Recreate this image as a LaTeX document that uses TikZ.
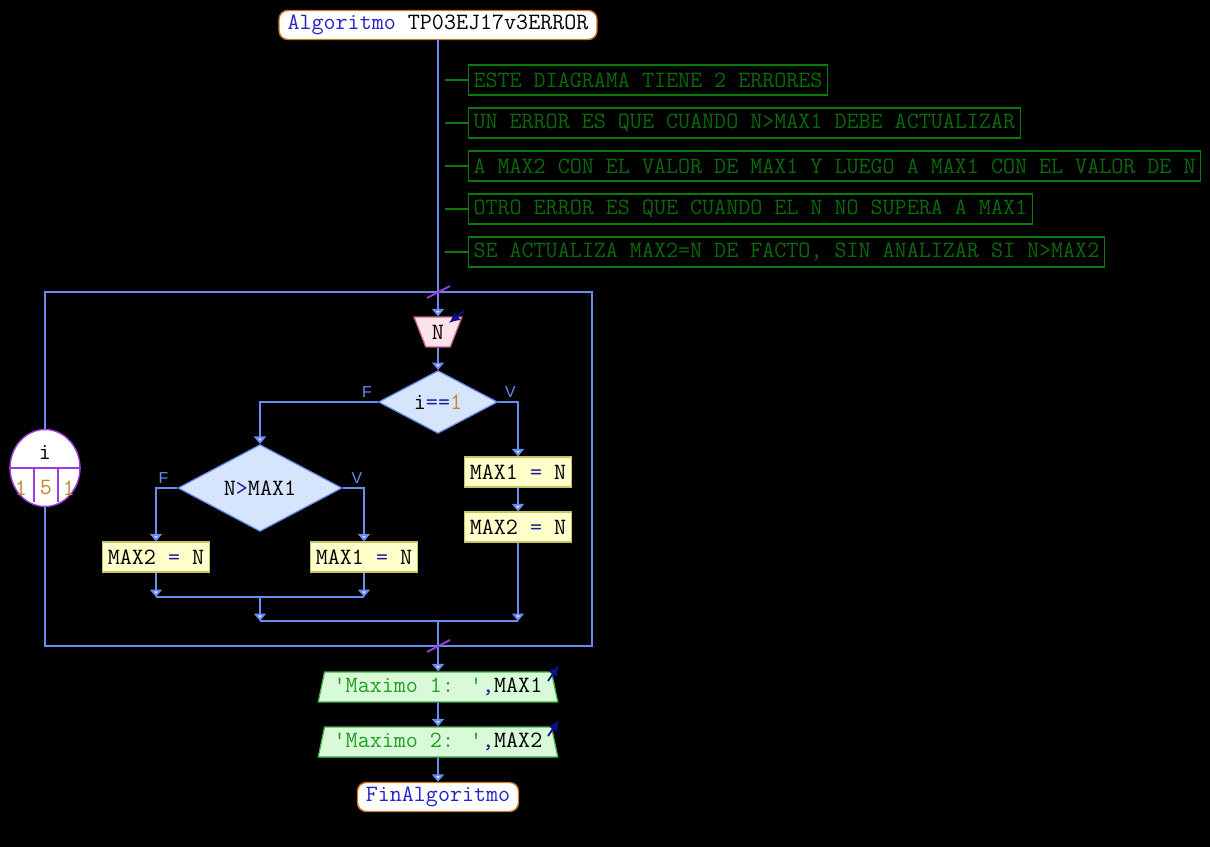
\documentclass[tikz,border=0pt]{standalone}
\usepackage{fontspec}
\newfontfamily\branchfont{Liberation Sans}
\usepackage{xcolor}
\usepackage{tikz}
\usetikzlibrary{positioning,arrows.meta,calc,shapes.geometric}
\definecolor{psFlow}{HTML}{6A8CF0}
\definecolor{psLoop}{HTML}{9A3CD8}
\definecolor{psKeyword}{HTML}{2424C8}
\definecolor{psNumber}{HTML}{C0862A}
\definecolor{psOperator}{HTML}{1A1A9A}
\definecolor{psPill}{HTML}{C87A24}
\definecolor{psDecision}{HTML}{D6E4FC}
\definecolor{psAssign}{HTML}{FFFFCC}
\definecolor{psAssignBorder}{HTML}{C8C464}
\definecolor{psRead}{HTML}{FCE2EA}
\definecolor{psReadBorder}{HTML}{C8648C}
\definecolor{psWrite}{HTML}{D8FAD8}
\definecolor{psWriteBorder}{HTML}{44B444}
\definecolor{psString}{HTML}{22A022}
\definecolor{psNote}{HTML}{0A7A0A}
\definecolor{psNoteText}{HTML}{0A6A0A}
\definecolor{psIO}{HTML}{10108A}
\newcommand{\flowfont}{\ttfamily\fontsize{13.3pt}{15pt}\selectfont}
\newcommand{\kw}[1]{\textcolor{psKeyword}{#1}}
\newcommand{\lit}[1]{\textcolor{psNumber}{#1}}
\newcommand{\op}[1]{\textcolor{psOperator}{#1}}
\newcommand{\str}[1]{\textcolor{psString}{#1}}
\tikzset{
  flow/.style={-{Triangle[length=1.5mm,width=2.4mm,fill=psFlow!25]},line width=1.1pt,draw=psFlow},
  flowline/.style={line width=1.1pt,draw=psFlow},
  pill/.style={draw=psPill,fill=white,rounded corners=5pt,line width=0.8pt,
    minimum height=0.58cm,inner sep=0pt,font=\flowfont},
  note/.style={draw=psNote,text=psNoteText,line width=0.6pt,minimum height=0.6cm,
    inner xsep=0.1cm,inner ysep=0pt,font=\flowfont,anchor=west},
  notelink/.style={draw=psNote,line width=1.1pt},
  assign/.style={draw=psAssignBorder,fill=psAssign,line width=0.7pt,minimum height=0.6cm,
    minimum width=2.14cm,inner sep=0pt,font=\flowfont},
  decision/.style={diamond,draw=psFlow,fill=psDecision,line width=0.7pt,inner sep=0pt,font=\flowfont},
  readbox/.style={trapezium,shape border rotate=180,trapezium stretches=true,trapezium angle=68,
    draw=psReadBorder,fill=psRead,line width=0.7pt,minimum width=0.96cm,minimum height=0.6cm,
    inner sep=0pt,font=\flowfont},
  writebox/.style={trapezium,trapezium stretches=true,trapezium angle=72,
    draw=psWriteBorder,fill=psWrite,line width=0.7pt,minimum width=4.8cm,minimum height=0.6cm,
    inner sep=0pt,font=\flowfont},
  loopvar/.style={ellipse,draw=psLoop,fill=white,line width=0.8pt,minimum width=1.4cm,
    minimum height=1.54cm,inner sep=0pt},
  branch/.style={font=\branchfont\small,text=psFlow,inner sep=1pt},
  ioarrow/.style={-{Latex[length=2.2mm,width=2mm]},line width=1pt,draw=psIO},
  loopline/.style={draw=psLoop,line width=0.8pt},
  cutmark/.style={draw=psLoop,line width=1.1pt}
}
\begin{document}
\begin{tikzpicture}[x=0.02cm, y=-0.02cm]
  \fill[black] (0,0) rectangle (1210,847);

  \node[pill, minimum width=6.36cm] (title) at (438,25) {\kw{Algoritmo} TP03EJ17v3ERROR};

  \node[note] (c1) at (468,80) {ESTE DIAGRAMA TIENE 2 ERRORES};
  \node[note] (c2) at (468,123) {UN ERROR ES QUE CUANDO N>MAX1 DEBE ACTUALIZAR};
  \node[note] (c3) at (468,166) {A MAX2 CON EL VALOR DE MAX1 Y LUEGO A MAX1 CON EL VALOR DE N};
  \node[note] (c4) at (468,209) {OTRO ERROR ES QUE CUANDO EL N NO SUPERA A MAX1};
  \node[note] (c5) at (468,252) {SE ACTUALIZA MAX2=N DE FACTO, SIN ANALIZAR SI N>MAX2};
  \foreach \c in {c1,c2,c3,c4,c5}
    \draw[notelink] (\c.west) -- ++(-23,0);

  \coordinate (looptop) at (438,292);
  \coordinate (loopbot) at (438,646);
  \coordinate (loopTL) at (45,292);
  \coordinate (loopTR) at (592,292);
  \coordinate (loopBL) at (45,646);
  \coordinate (loopBR) at (592,646);

  \node[readbox] (input) at (438,332) {N};
  \node[decision, minimum width=2.38cm, minimum height=1.14cm] (cond1) at (438,402) {i\op{==}\lit{1}};
  \node[decision, minimum width=3.28cm, minimum height=1.16cm] (cond2) at (260,488) {N\op{>}MAX1};

  \node[assign] (setmax1) at (518,472) {MAX1 \op{=} N};
  \node[assign] (setmax2) at (518,527) {MAX2 \op{=} N};
  \node[assign] (lowmax2) at (156,557) {MAX2 \op{=} N};
  \node[assign] (highmax1) at (364,557) {MAX1 \op{=} N};

  \coordinate (joinin) at (260,597);
  \coordinate (joinout) at (438,621);

  \node[branch, anchor=south east] (c1f) at ([shift={(-4,-2)}]cond1.west) {F};
  \node[branch, anchor=south west] (c1v) at ([shift={(5,-2)}]cond1.east) {V};
  \node[branch, anchor=south east] (c2f) at ([shift={(-7,-2)}]cond2.west) {F};
  \node[branch, anchor=south west] (c2v) at ([shift={(7,-2)}]cond2.east) {V};

  \node[writebox] (out1) at (438,687) {\str{\textquotesingle Maximo 1: \textquotesingle}\op{,}MAX1};
  \node[writebox] (out2) at (438,742) {\str{\textquotesingle Maximo 2: \textquotesingle}\op{,}MAX2};
  \node[pill, minimum width=3.22cm] (fin) at (438,797) {\kw{FinAlgoritmo}};

  \draw[flow] (title) -- (input);
  \draw[flow] (input) -- (cond1);
  \draw[flow] (cond1.west) -| (cond2.north);
  \draw[flow] (cond1.east) -| (setmax1.north);
  \draw[flow] (setmax1) -- (setmax2);
  \draw[flow] (cond2.west) -| (lowmax2.north);
  \draw[flow] (cond2.east) -| (highmax1.north);
  \draw[flow] (lowmax2) -- (lowmax2 |- joinin);
  \draw[flow] (highmax1) -- (highmax1 |- joinin);
  \draw[flowline] (lowmax2 |- joinin) -- (highmax1 |- joinin);
  \draw[flow] (joinin) -- (joinin |- joinout);
  \draw[flow] (setmax2) -- (setmax2 |- joinout);
  \draw[flowline] (joinin |- joinout) -- (setmax2 |- joinout);
  \draw[flow] (joinout) -- (out1);
  \draw[flow] (out1) -- (out2);
  \draw[flow] (out2) -- (fin);

  % ciclo para
  \node[loopvar] (loopvar) at (45,468) {};
  \draw[flowline] (loopvar.north) -- (loopTL) -- (loopTR) -- (loopBR) -- (loopBL) -- (loopvar.south);
  \draw[loopline] (loopvar.west) -- (loopvar.east);
  \draw[loopline] (34,469) -- (34,502);
  \draw[loopline] (58,469) -- (58,502);
  \node[font=\flowfont] (lvname) at (45,452) {i};
  \node[font=\flowfont] (lvfrom) at (21,488) {\lit{1}};
  \node[font=\flowfont] (lvto) at (46,488) {\lit{5}};
  \node[font=\flowfont] (lvstep) at (69,488) {\lit{1}};
  \draw[cutmark] ([shift={(-11,6)}]looptop) -- ([shift={(12,-6)}]looptop);
  \draw[cutmark] ([shift={(-11,6)}]loopbot) -- ([shift={(12,-6)}]loopbot);

  \draw[ioarrow] ([shift={(26,-21)}]input.center) -- ++(-15,12);
  \draw[ioarrow] ([shift={(110,-6)}]out1.center) -- ++(11,-16);
  \draw[ioarrow] ([shift={(110,-6)}]out2.center) -- ++(11,-16);
\end{tikzpicture}
\end{document}
